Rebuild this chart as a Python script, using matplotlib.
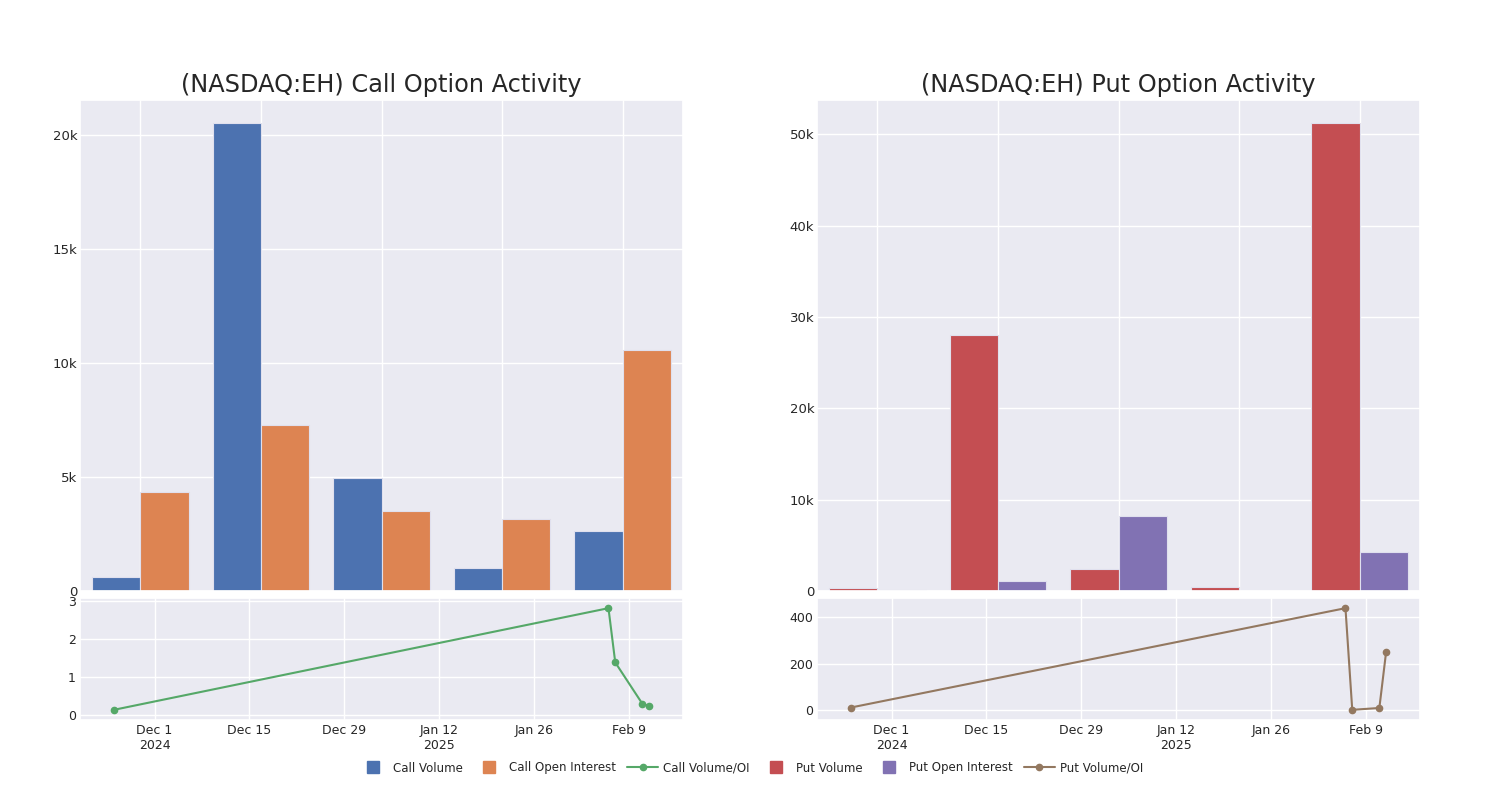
import datetime as dt
import matplotlib
matplotlib.use("Agg")
import matplotlib.pyplot as plt
from matplotlib.lines import Line2D
from matplotlib.ticker import FuncFormatter, MultipleLocator
import seaborn as sns

sns.set_theme(style="darkgrid")

# ---- data ----
groups = [0, 1, 2, 3, 4]
call_volume = [620, 20530, 4980, 1010, 2640]
call_oi = [4360, 7270, 3530, 3170, 10570]
put_volume = [330, 28020, 2420, 440, 51210]
put_oi = [80, 1100, 8240, 50, 4290]

ratio_dates = ["2024-11-25", "2025-02-06", "2025-02-07", "2025-02-11", "2025-02-12"]
call_ratio = [0.14, 2.82, 1.39, 0.30, 0.24]
put_ratio = [10, 440, 0, 8, 251]

tick_dates = ["2024-12-01", "2024-12-15", "2024-12-29", "2025-01-12", "2025-01-26", "2025-02-09"]
tick_labels = ["Dec 1\n2024", "Dec 15", "Dec 29", "Jan 12\n2025", "Jan 26", "Feb 9"]
xlim_dates = ["2024-11-20", "2025-02-17"]

ticker = "(NASDAQ:EH)"

blue, orange, green, red, purple, brown = sns.color_palette("deep", 6)

to_dt = lambda s: dt.datetime.strptime(s, "%Y-%m-%d")
ratio_x = [to_dt(d) for d in ratio_dates]


def kfmt(v, pos):
    if v == 0:
        return "0"
    return f"{int(v / 1000)}k"


fig = plt.figure(figsize=(15, 8), dpi=100)

panels = [
    (80, "Call", call_volume, call_oi, call_ratio, blue, orange, green, 5000),
    (817, "Put", put_volume, put_oi, put_ratio, red, purple, brown, 10000),
]

for left_px, kind, vol, oi, ratio, c1, c2, c3, step in panels:
    x0 = left_px / 1500
    w = 603 / 1500
    ax_bar = fig.add_axes([x0, 209 / 800, w, 491 / 800])
    ax_line = fig.add_axes([x0, 80 / 800, w, 122 / 800])

    ax_bar.bar([g - 0.2 for g in groups], vol, width=0.4, color=c1,
               edgecolor="#e0e0ee", linewidth=0.8)
    ax_bar.bar([g + 0.2 for g in groups], oi, width=0.4, color=c2,
               edgecolor="#e0e0ee", linewidth=0.8)
    ax_bar.set_xticks(groups)
    ax_bar.set_xticklabels([])
    ax_bar.set_xlim(-0.5, 4.5)
    ax_bar.yaxis.set_major_locator(MultipleLocator(step))
    ax_bar.yaxis.set_major_formatter(FuncFormatter(kfmt))
    ax_bar.tick_params(axis="y", labelsize=9.5, pad=2, length=0)
    ax_bar.tick_params(axis="x", length=0)
    ax_bar.set_title(f"{ticker} {kind} Option Activity", fontsize=17.3, pad=6)

    ax_line.plot(ratio_x, ratio, color=c3, marker="o", markersize=4.5, linewidth=1.5)
    ax_line.set_xticks([to_dt(d) for d in tick_dates])
    ax_line.set_xticklabels(tick_labels)
    ax_line.set_xlim(to_dt(xlim_dates[0]), to_dt(xlim_dates[1]))
    ax_line.margins(y=0.1)
    ax_line.tick_params(labelsize=9, pad=3, length=0)

handles = [
    Line2D([], [], color=blue, marker="s", linestyle="none", markersize=8.5, label="Call Volume"),
    Line2D([], [], color=orange, marker="s", linestyle="none", markersize=8.5, label="Call Open Interest"),
    Line2D([], [], color=green, marker="o", markersize=4.5, linewidth=1.5, label="Call Volume/OI"),
    Line2D([], [], color=red, marker="s", linestyle="none", markersize=8.5, label="Put Volume"),
    Line2D([], [], color=purple, marker="s", linestyle="none", markersize=8.5, label="Put Open Interest"),
    Line2D([], [], color=brown, marker="o", markersize=4.5, linewidth=1.5, label="Put Volume/OI"),
]
fig.legend(handles=handles, loc="center", bbox_to_anchor=(0.5, 32 / 800), ncol=6,
           frameon=False, fontsize=8.5, handlelength=2.6, columnspacing=0.95,
           handletextpad=0.4)

fig.savefig("out.png", dpi=100)
